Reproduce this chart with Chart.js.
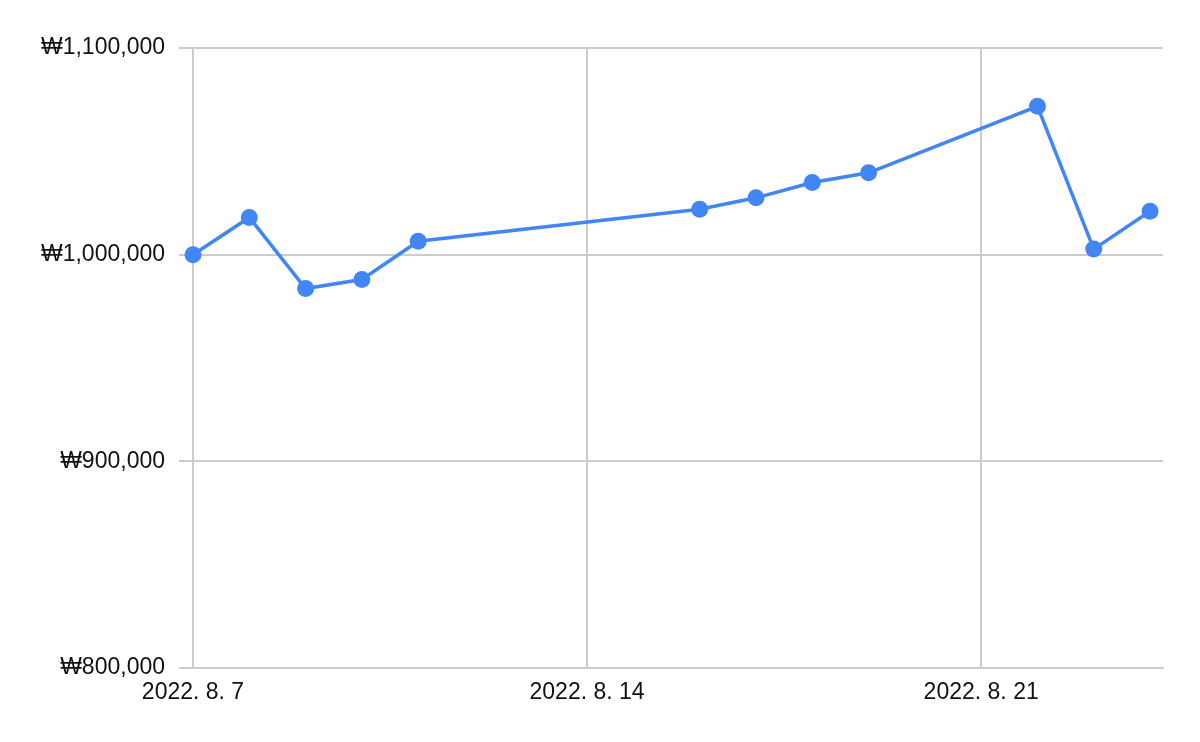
<!DOCTYPE html>
<html>
<head>
<meta charset="utf-8">
<script src="https://cdn.jsdelivr.net/npm/chart.js@4/dist/chart.umd.min.js"></script>
<style>
  html, body { margin: 0; padding: 0; background: #fff; }
  #wrap { width: 1200px; height: 742px; position: relative; }
</style>
</head>
<body>
<div id="wrap"><canvas id="chart"></canvas></div>
<script>
// days since 2022. 8. 7
const dayOffsets = [0, 1, 2, 3, 4, 9, 10, 11, 12, 15, 16, 17]
const prices = [1000000, 1018000, 983600, 988000, 1006500, 1022000, 1027500, 1034900, 1039600, 1071800, 1002700, 1021000]
const xTickDays = [0, 7, 14]
const xTickLabels = ['2022. 8. 7', '2022. 8. 14', '2022. 8. 21']
const yTicks = [800000, 900000, 1000000, 1100000]

const points = dayOffsets.map( ( d, i ) => ( { x: d, y: prices[i] } ) )

const font = { family: 'Arial, "Liberation Sans", sans-serif', size: 23 }

new Chart( document.getElementById( 'chart' ), {
  type: 'line',
  data: {
    datasets: [
      {
        data: points,
        borderColor: '#4285F4',
        backgroundColor: '#4285F4',
        borderWidth: 3.5,
        pointRadius: 8.5,
        pointHoverRadius: 8.5,
        pointBorderWidth: 0,
        tension: 0,
        clip: false,
      },
    ],
  },
  options: {
    responsive: true,
    maintainAspectRatio: false,
    animation: false,
    layout: { padding: { top: 48, right: 37, left: 0, bottom: 0 } },
    plugins: { legend: { display: false }, tooltip: { enabled: false } },
    scales: {
      x: {
        type: 'linear',
        min: 0,
        max: 17.23,
        afterBuildTicks: ( scale ) => {
          scale.ticks = xTickDays.map( ( v ) => ( { value: v } ) )
        },
        afterFit: ( scale ) => { scale.height = 74 },
        grid: { color: '#cccccc', lineWidth: 2, drawTicks: false },
        border: { color: '#cccccc', width: 2 },
        ticks: {
          color: '#111',
          font: font,
          padding: 11,
          maxRotation: 0,
          callback: ( v ) => xTickLabels[xTickDays.indexOf( v )],
        },
      },
      y: {
        min: 800000,
        max: 1100000,
        afterBuildTicks: ( scale ) => {
          scale.ticks = yTicks.map( ( v ) => ( { value: v } ) )
        },
        afterFit: ( scale ) => { scale.width = 193 },
        grid: { color: '#cccccc', lineWidth: 2, tickLength: 14 },
        border: { color: '#cccccc', width: 2 },
        ticks: {
          color: '#111',
          font: font,
          padding: 14,
          callback: ( v ) => '₩' + v.toLocaleString( 'en-US' ),
        },
      },
    },
  },
} )
</script>
</body>
</html>
